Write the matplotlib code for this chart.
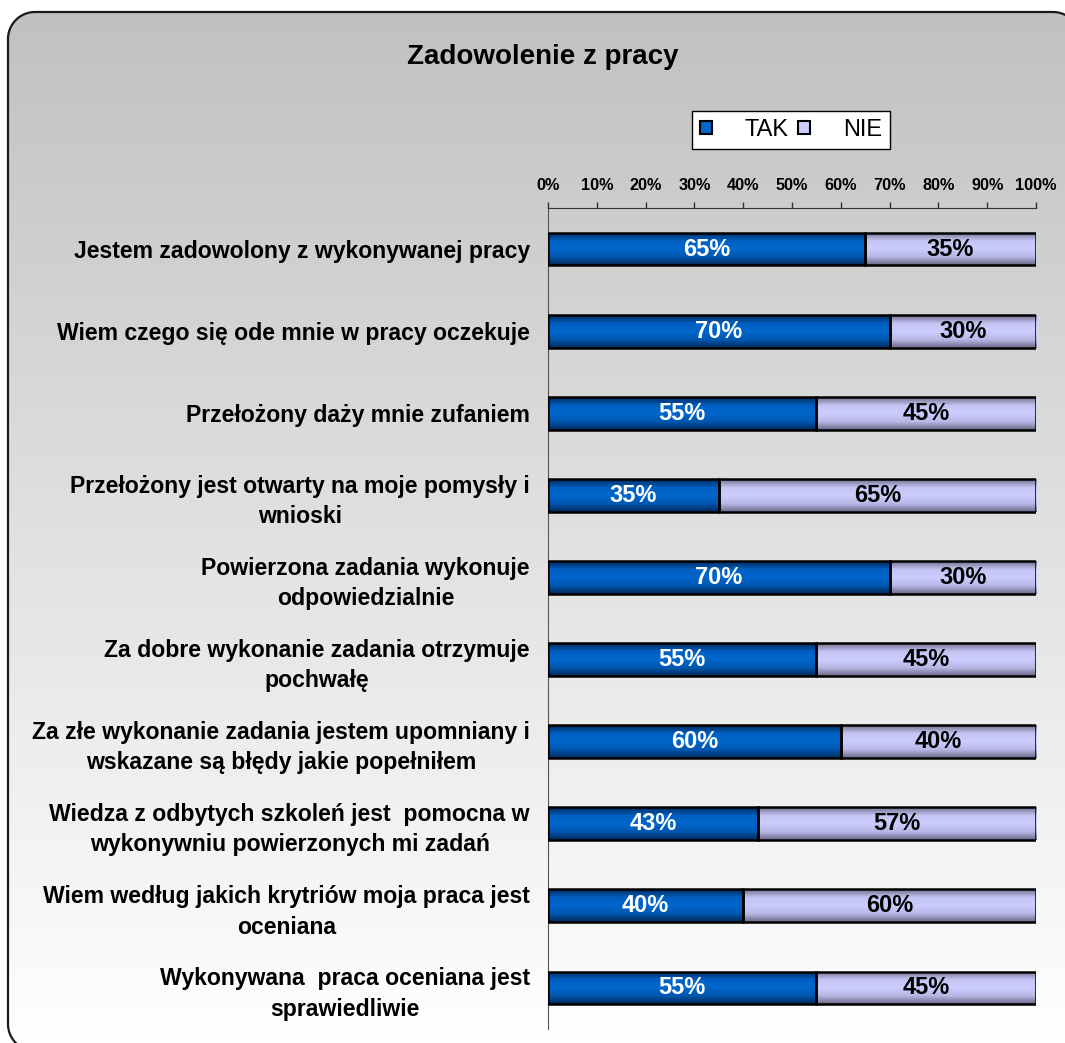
import numpy as np
import matplotlib
matplotlib.use('Agg')
import matplotlib.pyplot as plt
from matplotlib.colors import LinearSegmentedColormap
from matplotlib.patches import Polygon, Patch

categories = [
    'Jestem zadowolony z wykonywanej pracy',
    'Wiem czego się ode mnie w pracy oczekuje',
    'Przełożony daży mnie zufaniem',
    'Przełożony jest otwarty na moje pomysły i\nwnioski',
    'Powierzona zadania wykonuje\nodpowiedzialnie',
    'Za dobre wykonanie zadania otrzymuje\npochwałę',
    'Za złe wykonanie zadania jestem upomniany i\nwskazane są błędy jakie popełniłem',
    'Wiedza z odbytych szkoleń jest  pomocna w\nwykonywniu powierzonych mi zadań',
    'Wiem według jakich krytriów moja praca jest\noceniana',
    'Wykonywana  praca oceniana jest\nsprawiedliwie',
]
tak = [65, 70, 55, 35, 70, 55, 60, 43, 40, 55]
nie = [35, 30, 45, 65, 30, 45, 40, 57, 60, 45]
series = ['TAK', 'NIE']
xticks = list(range(0, 101, 10))

plt.rcParams['font.family'] = ['Liberation Sans', 'DejaVu Sans']

W, H = 1065, 1043
fig = plt.figure(figsize=(W / 100, H / 100), dpi=100)
fig.patch.set_facecolor('white')


def rounded_rect(x0, y0, x1, y1, r, n=20):
    # polyline outline of a rounded rectangle (pixel coords, origin bottom-left)
    pts = []
    for cx, cy, a0 in ((x1 - r, y1 - r, 0), (x0 + r, y1 - r, 90),
                       (x0 + r, y0 + r, 180), (x1 - r, y0 + r, 270)):
        t = np.radians(np.linspace(a0, a0 + 90, n))
        pts.append(np.column_stack([cx + r * np.cos(t), cy + r * np.sin(t)]))
    return np.vstack(pts)


# background frame with gray->white gradient
bg = fig.add_axes([0, 0, 1, 1], zorder=-10)
bg.axis('off')
frame = Polygon(rounded_rect(8, -8, 1080, H - 12, 27), closed=True, fc='none',
                ec='#1a1a1a', lw=1.6, transform=None, zorder=2)
fig.patches.append(frame)
grad = np.linspace(0, 1, 256).reshape(-1, 1)
bg_cmap = LinearSegmentedColormap.from_list('bg', ['#c0c0c0', '#e0e0e0', '#ffffff'])
im = bg.imshow(grad, cmap=bg_cmap, extent=(0, 1, 0, 1), aspect='auto', zorder=1)
im.set_clip_path(frame)
bg.set_xlim(0, 1)
bg.set_ylim(0, 1)

# main axes
ax = fig.add_axes([548 / W, 1 - 1029 / H, 488 / W, (1029 - 208) / H])
ax.patch.set_alpha(0)
y = np.arange(len(categories))
h = 0.4

tak_cmap = LinearSegmentedColormap.from_list('tak', ['#002a5c', '#0060c0', '#0066cc', '#0058b0', '#002a5c'])
nie_cmap = LinearSegmentedColormap.from_list('nie', ['#70708c', '#c4c4f4', '#ccccff', '#b8b8e6', '#6a6a88'])
vgrad = np.linspace(0, 1, 64).reshape(-1, 1)

b1 = ax.barh(y, tak, height=h, fc='none', ec='black', lw=1.8, zorder=3)
b2 = ax.barh(y, nie, left=tak, height=h, fc='none', ec='black', lw=1.8, zorder=3)
for bars, cmap in ((b1, tak_cmap), (b2, nie_cmap)):
    for p in bars:
        x0, y0 = p.get_x(), p.get_y()
        img = ax.imshow(vgrad, cmap=cmap, extent=(x0, x0 + p.get_width(), y0 + p.get_height(), y0),
                        aspect='auto', zorder=2, interpolation='bilinear')
        img.set_clip_path(p)

for i in range(len(categories)):
    ax.text(tak[i] / 2, i, f'{tak[i]}%', color='white', fontsize=17, fontweight='bold',
            ha='center', va='center', zorder=4)
    ax.text(tak[i] + nie[i] / 2, i, f'{nie[i]}%', color='black', fontsize=17, fontweight='bold',
            ha='center', va='center', zorder=4)

ax.set_xlim(0, 100)
ax.set_ylim(len(categories) - 0.5, -0.5)
ax.xaxis.tick_top()
ax.set_xticks(xticks)
ax.set_xticklabels([f'{t}%' for t in xticks], fontsize=11.7, fontweight='bold')
ax.tick_params(axis='x', direction='out', length=4, width=1, color='#333333', pad=6.5)
ax.set_yticks(y)
ax.set_yticklabels(categories, fontsize=16.6, fontweight='bold', ha='right', linespacing=1.4)
for lab in ax.get_yticklabels():
    lab.set_multialignment('center')
ax.tick_params(axis='y', length=0, pad=13)
for s in ('right', 'bottom'):
    ax.spines[s].set_visible(False)
ax.spines['top'].set_color('#333333')
ax.spines['left'].set_color('#555555')

fig.text(543 / W, 1 - 57 / H, 'Zadowolenie z pracy', fontsize=20, fontweight='bold',
         ha='center', va='center')

handles = [Patch(fc='#0066cc', ec='black', lw=1.5), Patch(fc='#ccccff', ec='black', lw=1.5)]
leg = fig.legend(handles, series, loc='center', bbox_to_anchor=(791 / W, 1 - 130 / H),
                 ncol=2, fontsize=17, handlelength=0.5, handleheight=0.5, handletextpad=1.4,
                 columnspacing=0.4, fancybox=False, edgecolor='black', framealpha=1,
                 borderpad=0.35)
leg.get_frame().set_linewidth(1.0)

fig.savefig('out.png', dpi=100)
